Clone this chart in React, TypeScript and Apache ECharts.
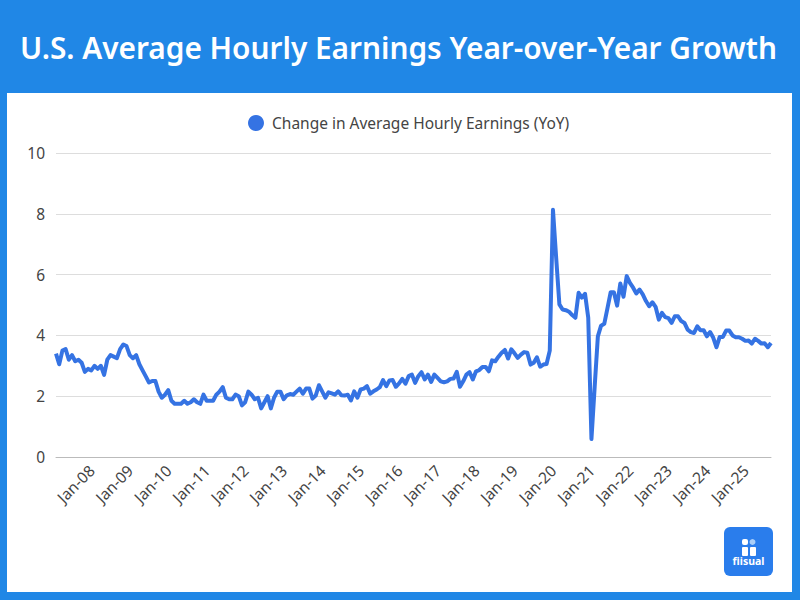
import React, { useEffect, useRef } from "react";
import * as echarts from "echarts";

const titleText = "U.S. Average Hourly Earnings Year-over-Year Growth";
const seriesName = "Change in Average Hourly Earnings (YoY)";
const monthNames = ["Jan","Feb","Mar","Apr","May","Jun","Jul","Aug","Sep","Oct","Nov","Dec"];
const yearLabels = ["07","08","09","10","11","12","13","14","15","16","17","18","19","20","21","22","23","24","25"];

const values2007to2012 = [
  3.4,3.05,3.5,3.55,3.2,3.35,3.15,3.2,3.1,2.8,2.9,2.85,3.0,2.9,3.0,2.7,3.2,3.35,3.3,3.25,
  3.55,3.7,3.65,3.35,3.25,3.35,3.05,2.85,2.65,2.45,2.5,2.5,2.15,1.95,2.05,2.2,1.85,1.75,1.75,1.75,
  1.85,1.75,1.8,1.9,1.8,1.75,2.05,1.85,1.85,1.85,2.05,2.15,2.3,1.95,1.9,1.9,2.05,2.0,1.7,1.8,
  2.15,2.05,1.9,1.95,1.6,1.8,2.0,1.6,1.95,2.15,
];
const values2013to2019 = [
  2.15,1.9,2.03,2.07,2.05,2.15,2.25,2.08,2.25,2.25,1.92,2.02,2.36,2.16,1.95,2.13,2.09,2.05,2.16,2.03,
  2.02,2.05,1.86,2.16,1.95,2.22,2.25,2.33,2.08,2.16,2.22,2.3,2.53,2.33,2.52,2.53,2.31,2.42,2.57,2.41,
  2.66,2.71,2.44,2.66,2.79,2.55,2.71,2.47,2.71,2.6,2.49,2.46,2.49,2.57,2.58,2.8,2.31,2.49,2.71,2.79,
  2.55,2.82,2.86,2.96,2.96,2.82,3.18,3.15,3.3,3.43,3.52,3.24,3.54,3.41,3.26,3.37,3.45,3.43,3.04,3.1,
  3.28,2.97,3.04,3.06,3.5,
];
const values2020to2025 = [
  8.13,6.55,5.02,4.85,4.83,4.78,4.67,4.58,5.4,5.24,5.37,4.58,0.59,2.3,3.97,4.32,4.38,4.9,5.42,5.42,
  4.98,5.71,5.27,5.95,5.73,5.57,5.38,5.51,5.35,5.13,4.96,5.09,4.94,4.52,4.74,4.6,4.57,4.41,4.63,4.63,
  4.47,4.41,4.19,4.11,4.08,4.3,4.17,4.17,3.97,4.11,3.92,3.61,3.95,3.95,4.16,4.16,4.0,3.94,3.94,3.89,
  3.82,3.83,3.73,3.89,3.82,3.73,3.74,3.61,3.75,
];
const values = [...values2007to2012, ...values2013to2019, ...values2020to2025];
const categories = values.map((_, i) => `${monthNames[i % 12]}-${yearLabels[Math.floor(i / 12)]}`);

export default function App() {
  const ref = useRef<HTMLDivElement>(null);
  useEffect(() => {
    const chart = echarts.init(ref.current!, undefined, { renderer: "svg" });
    chart.setOption({
      animation: false,
      backgroundColor: "#2087E6",
      textStyle: { fontFamily: "'Noto Sans', sans-serif" },
      title: {
        text: titleText,
        left: 15,
        top: 27,
        textStyle: { color: "#ffffff", fontSize: 29.8, fontWeight: 600, fontFamily: "'Noto Sans', sans-serif" },
      },
      graphic: [
        { type: "rect", z: -10, shape: { x: 7, y: 93, width: 785, height: 499 }, style: { fill: "#ffffff" } },
        { type: "rect", z: 10, shape: { x: 724, y: 527, width: 49, height: 49, r: 6 }, style: { fill: "#2A7DEC" } },
        { type: "rect", z: 11, shape: { x: 742, y: 539, width: 6, height: 6, r: 2 }, style: { fill: "#ffffff" } },
        { type: "circle", z: 11, shape: { cx: 752.5, cy: 542, r: 3 }, style: { fill: "#A9CEF8" } },
        { type: "rect", z: 11, shape: { x: 742, y: 547, width: 6, height: 9, r: 1 }, style: { fill: "#ffffff" } },
        { type: "rect", z: 11, shape: { x: 750, y: 547, width: 6, height: 9, r: 1 }, style: { fill: "#ffffff" } },
        { type: "text", z: 11, x: 748.5, y: 561, style: { text: "fiisual", fill: "#ffffff", fontSize: 10.5, fontWeight: 700, align: "center", verticalAlign: "middle", fontFamily: "'Noto Sans', sans-serif" } },
      ],
      legend: {
        top: 110,
        left: 243,
        icon: "circle",
        itemWidth: 16,
        itemHeight: 16,
        itemGap: 7,
        textStyle: { color: "#444444", fontSize: 15.5, padding: [0, 0, 0, 3], fontFamily: "'Noto Sans', sans-serif" },
        data: [seriesName],
      },
      grid: { left: 56, right: 29, top: 153, bottom: 143 },
      xAxis: {
        type: "category",
        boundaryGap: false,
        data: categories,
        axisLine: { show: true, lineStyle: { color: "#BBBBBB", width: 1 } },
        axisTick: { show: false },
        splitLine: { show: false },
        axisLabel: {
          rotate: 45,
          margin: 8,
          padding: [0, 4, 0, 0],
          color: "#444444",
          fontSize: 15.5,
          interval: (i: number) => i > 0 && i % 12 === 0,
        },
      },
      yAxis: {
        type: "value",
        min: 0,
        max: 10,
        interval: 2,
        axisLine: { show: false },
        axisTick: { show: false },
        splitLine: { lineStyle: { color: "#DDDDDD", width: 1 } },
        axisLabel: { color: "#444444", fontSize: 15.5, margin: 11 },
      },
      series: [
        {
          name: seriesName,
          type: "line",
          data: values,
          showSymbol: false,
          symbol: "circle",
          smooth: false,
          itemStyle: { color: "#3573E3" },
          lineStyle: { color: "#3573E3", width: 4, join: "round" },
        },
      ],
    });
    return () => chart.dispose();
  }, []);
  return <div ref={ref} style={{ position: "fixed", left: 0, top: 0, width: 800, height: 600 }} />;
}
